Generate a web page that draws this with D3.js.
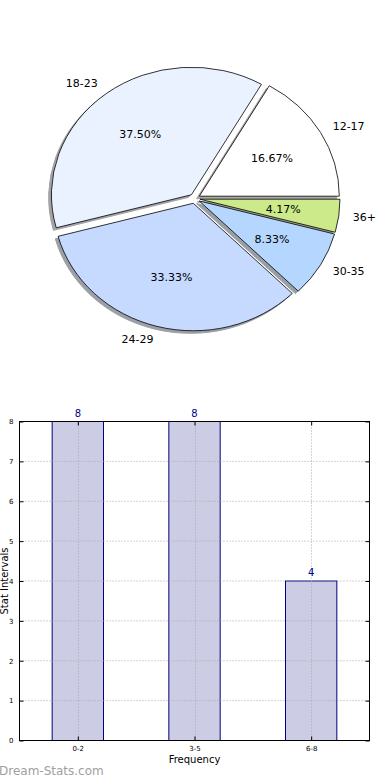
<!DOCTYPE html>
<meta charset="utf-8">
<style>
body { margin: 0; background: #fff; }
svg { display: block; font-family: "DejaVu Sans", sans-serif; }
</style>
<body>
<div id="chart"></div>
<script src="https://d3js.org/d3.v7.min.js"></script>
<script>

// pie data (age groups)
var ageLabels = ['12-17', '18-23', '24-29', '30-35', '36+'];
var ageShares = [16.67, 37.50, 33.33, 8.33, 4.17];
var ageColors = ['#ffffff', '#ebf2ff', '#c6d9ff', '#b5d7ff', '#cdea8a'];

// bar data
var freqCats = ['0-2', '3-5', '6-8'];
var freqVals = [8, 8, 4];
var yTicks = [0, 1, 2, 3, 4, 5, 6, 7, 8];

var W = 390, H = 780;
var svg = d3.select('#chart').append('svg')
  .attr('width', W)
  .attr('height', H);

drawPie();
drawBars();

function drawPie(){
  // the pie is stretched, so work on a unit circle and scale it
  var cx = 194.7, cy = 198.6, rx = 140, ry = 127.5;
  var explode = 0.038;

  var pie = d3.pie().sort(null)
    .startAngle(Math.PI / 2)
    .endAngle(Math.PI / 2 - 2 * Math.PI);
  var arcs = pie(ageShares);
  var arc = d3.arc().innerRadius(0).outerRadius(1);

  function mid(d){ return (d.startAngle + d.endAngle) / 2; }
  // unit direction on screen
  function dir(d){ var a = mid(d); return [Math.sin(a), -Math.cos(a)]; }
  function centre(d){
    var u = dir(d);
    return [cx + explode * rx * u[0], cy + explode * ry * u[1]];
  }

  var g = svg.append('g');

  // shadows first, below every wedge
  g.selectAll('path.shadow').data(arcs).enter().append('path')
    .attr('class', 'shadow')
    .attr('d', arc)
    .attr('transform', function(d){
      var c = centre(d);
      return 'translate(' + (c[0] - 0.02 * rx) + ',' + (c[1] + 0.02 * ry) + ') scale(' + rx + ',' + ry + ')';
    })
    .attr('vector-effect', 'non-scaling-stroke')
    .style('fill', function(d, i){ var c = d3.rgb(ageColors[i]); return d3.rgb(c.r * 0.3, c.g * 0.3, c.b * 0.3); })
    .style('stroke', function(d, i){ var c = d3.rgb(ageColors[i]); return d3.rgb(c.r * 0.3, c.g * 0.3, c.b * 0.3); })
    .style('stroke-width', 1)
    .style('opacity', 0.5);

  g.selectAll('path.wedge').data(arcs).enter().append('path')
    .attr('class', 'wedge')
    .attr('d', arc)
    .attr('transform', function(d){
      var c = centre(d);
      return 'translate(' + c[0] + ',' + c[1] + ') scale(' + rx + ',' + ry + ')';
    })
    .attr('vector-effect', 'non-scaling-stroke')
    .style('fill', function(d, i){ return ageColors[i]; })
    .style('stroke', '#000')
    .style('stroke-width', 0.8);

  // outer labels at 1.1 r
  g.selectAll('text.lbl').data(arcs).enter().append('text')
    .attr('class', 'lbl')
    .attr('x', function(d){ return centre(d)[0] + 1.1 * rx * dir(d)[0]; })
    .attr('y', function(d){ return centre(d)[1] + 1.1 * ry * dir(d)[1]; })
    .attr('dy', '0.35em')
    .attr('text-anchor', function(d){ return dir(d)[0] > 0 ? 'start' : 'end'; })
    .style('font-size', '11px')
    .style('fill', '#000')
    .text(function(d, i){ return ageLabels[i]; });

  // percentages at 0.6 r
  g.selectAll('text.pct').data(arcs).enter().append('text')
    .attr('class', 'pct')
    .attr('x', function(d){ return centre(d)[0] + 0.6 * rx * dir(d)[0]; })
    .attr('y', function(d){ return centre(d)[1] + 0.6 * ry * dir(d)[1]; })
    .attr('dy', '0.35em')
    .attr('text-anchor', 'middle')
    .style('font-size', '11px')
    .style('fill', '#000')
    .text(function(d){ return d.data.toFixed(2) + '%'; });
}

function drawBars(){
  var left = 19.5, right = 369.5, top = 421.5, bottom = 740.5;
  var barW = 0.44;

  var x = d3.scaleLinear().domain([-0.5, 2.5]).range([left, right]);
  var y = d3.scaleLinear().domain([0, 8]).range([bottom, top]);

  var g = svg.append('g');

  g.selectAll('rect.bar').data(freqVals).enter().append('rect')
    .attr('class', 'bar')
    .attr('x', function(d, i){ return x(i - barW / 2); })
    .attr('width', function(){ return x(barW) - x(0); })
    .attr('y', function(d){ return y(d); })
    .attr('height', function(d){ return y(0) - y(d); })
    .style('fill', '#cccce4')
    .style('stroke', '#000080')
    .style('stroke-width', 1);

  // dotted grid over the bars
  g.selectAll('line.gy').data(yTicks.slice(1, -1)).enter().append('line')
    .attr('x1', left).attr('x2', right)
    .attr('y1', function(d){ return y(d); })
    .attr('y2', function(d){ return y(d); })
    .style('stroke', '#a8a8a8')
    .style('stroke-dasharray', '1,2');

  g.selectAll('line.gx').data(freqCats).enter().append('line')
    .attr('x1', function(d, i){ return Math.round(x(i)) + 0.5; })
    .attr('x2', function(d, i){ return Math.round(x(i)) + 0.5; })
    .attr('y1', top).attr('y2', bottom)
    .style('stroke', '#a8a8a8')
    .style('stroke-dasharray', '1,2');

  // axes with inward ticks
  var yl = d3.axisLeft(y).tickValues(yTicks).tickSizeInner(-4).tickSizeOuter(0).tickPadding(6);
  var yr = d3.axisRight(y).tickValues(yTicks).tickSizeInner(-4).tickSizeOuter(0).tickFormat('');
  var xb = d3.axisBottom(x).tickValues([0, 1, 2]).tickSizeInner(-4).tickSizeOuter(0).tickPadding(6)
    .tickFormat(function(d){ return freqCats[d]; });
  var xt = d3.axisTop(x).tickValues([0, 1, 2]).tickSizeInner(-4).tickSizeOuter(0).tickFormat('');

  function style(sel){
    sel.select('.domain').remove();
    sel.selectAll('line').style('stroke', '#000');
    sel.selectAll('text').style('font-size', '7px').style('font-family', '"DejaVu Sans", sans-serif').style('fill', '#000');
  }
  g.append('g').attr('transform', 'translate(' + left + ',0)').call(yl).call(style);
  g.append('g').attr('transform', 'translate(' + right + ',0)').call(yr).call(style);
  g.append('g').attr('transform', 'translate(0,' + bottom + ')').call(xb).call(style);
  g.append('g').attr('transform', 'translate(0,' + top + ')').call(xt).call(style);

  g.append('rect')
    .attr('x', left).attr('y', top)
    .attr('width', right - left).attr('height', bottom - top)
    .style('fill', 'none')
    .style('stroke', '#000')
    .style('stroke-width', 1);

  // value labels
  g.selectAll('text.val').data(freqVals).enter().append('text')
    .attr('class', 'val')
    .attr('x', function(d, i){ return x(i); })
    .attr('y', function(d){ return y(d) - 5; })
    .attr('text-anchor', 'middle')
    .style('font-size', '10px')
    .style('fill', '#00008b')
    .text(function(d){ return d; });

  g.append('text')
    .attr('x', (left + right) / 2)
    .attr('y', 763)
    .attr('text-anchor', 'middle')
    .style('font-size', '10px')
    .text('Frequency');

  g.append('text')
    .attr('transform', 'translate(8,' + y(4) + ') rotate(-90)')
    .attr('text-anchor', 'middle')
    .style('font-size', '10px')
    .text('Stat Intervals');

  svg.append('text')
    .attr('x', -1)
    .attr('y', 775)
    .style('font-size', '12px')
    .style('fill', '#a0a0a0')
    .text('Dream-Stats.com');
}

</script>
